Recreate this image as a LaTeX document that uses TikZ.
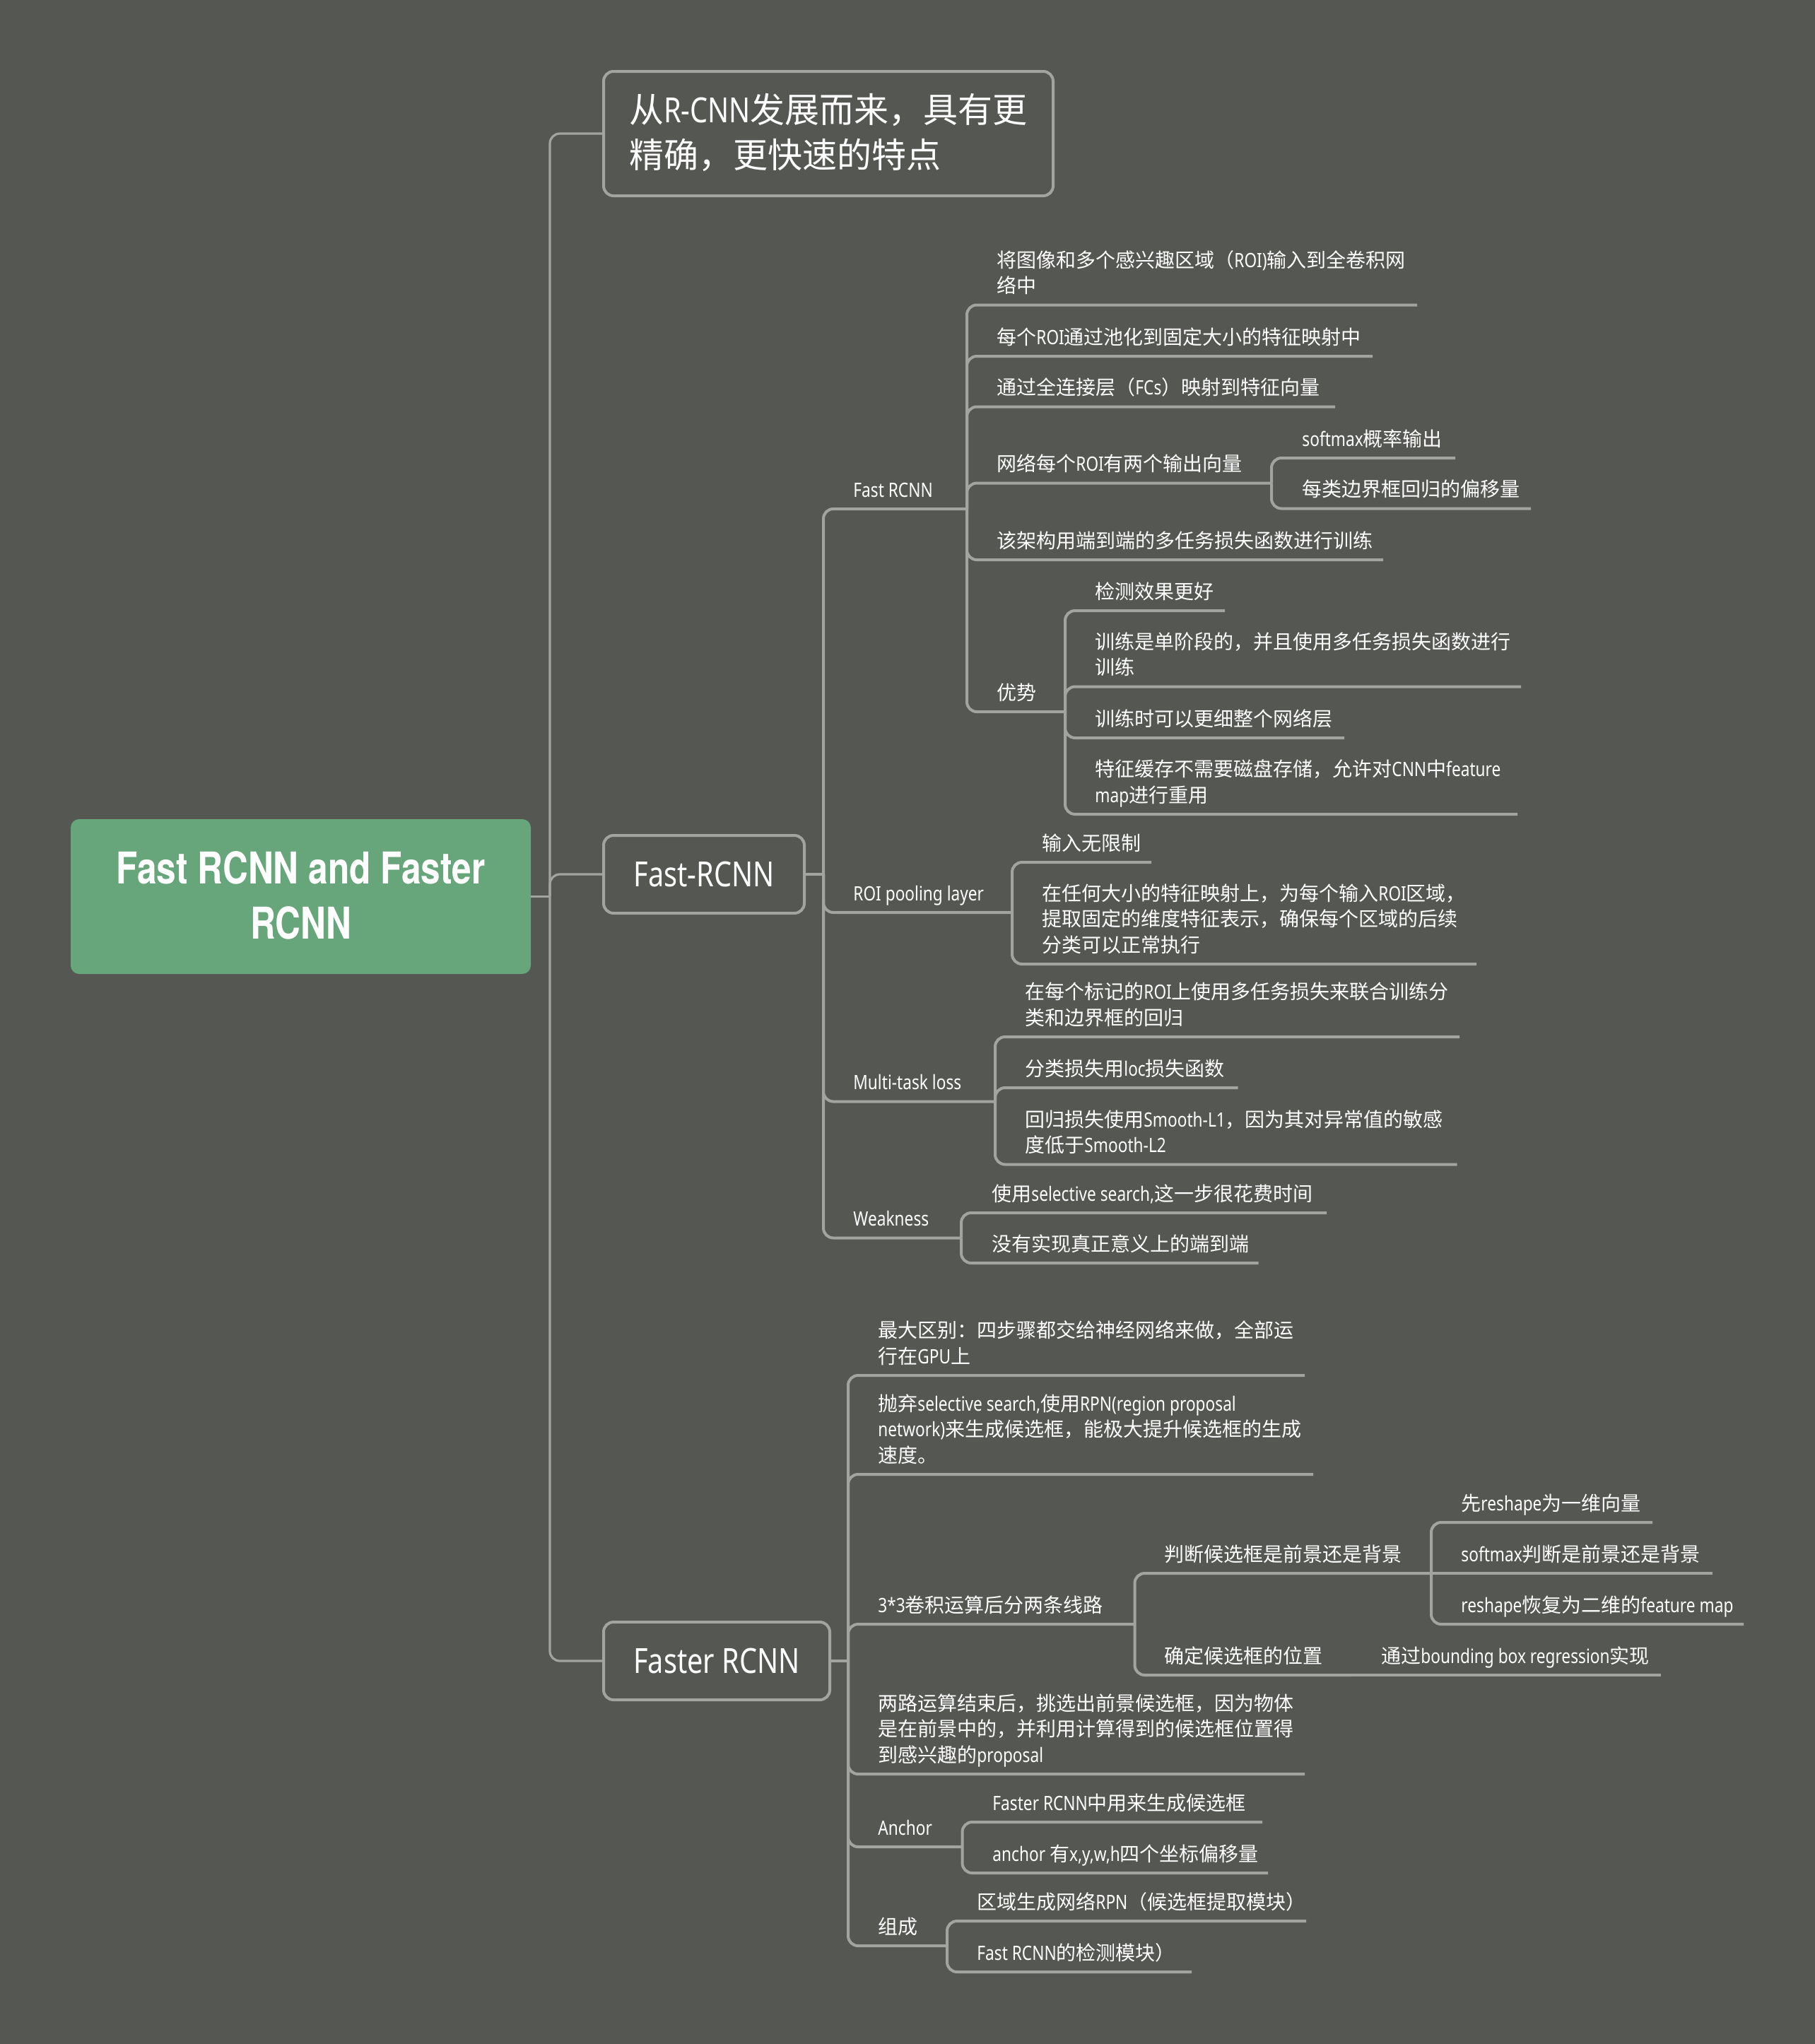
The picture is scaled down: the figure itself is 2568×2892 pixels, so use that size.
\documentclass[tikz,border=0pt]{standalone}
\usepackage{fontspec}
\setmainfont{Noto Sans}[FakeStretch=0.81]
\newfontfamily\latfont{Noto Sans}[FakeStretch=0.81]
\newfontfamily\rootfont{TeX Gyre Heros}[FakeStretch=0.80]
\newfontfamily\cjkfont{Noto Sans CJK SC}
\newcount\cjkcnt
\newXeTeXintercharclass\cjkclass
\def\setcjkrange#1#2{\cjkcnt=#1 \loop\ifnum\cjkcnt<#2 \XeTeXcharclass\cjkcnt=\cjkclass \advance\cjkcnt by 1 \repeat}
\setcjkrange{"3000}{"3040}
\setcjkrange{"4E00}{"A000}
\setcjkrange{"FF00}{"FFF0}
\XeTeXinterchartoks 0 \cjkclass = {\cjkfont}
\XeTeXinterchartoks 4095 \cjkclass = {\cjkfont}
\XeTeXinterchartoks \cjkclass 0 = {\latfont}
\XeTeXinterchartokenstate=1
\definecolor{bgc}{HTML}{555753}
\definecolor{linec}{HTML}{A1A49F}
\definecolor{rootc}{HTML}{67A57A}
\definecolor{txtc}{HTML}{FFFFFF}
\newcommand\ml[1]{\begin{tabular}[b]{@{}l@{}}#1\end{tabular}}
\tikzset{
  conn/.style={draw=linec, line width=2pt, rounded corners=7pt},
  conntrunk/.style={draw=linec, line width=1.6pt, rounded corners=7pt},
  topic/.style={text=txtc, font=\fontsize{14}{18.25}\selectfont, inner sep=0pt, anchor=base west},
  lonebox/.style={draw=linec, line width=2pt, rounded corners=7pt, fill=bgc, text=txtc,
    font=\fontsize{24.5}{32}\selectfont, inner sep=0pt},
  rootbox/.style={fill=rootc, rounded corners=6pt, text=txtc, inner sep=0pt,
    font=\rootfont\bfseries\fontsize{31}{39}\selectfont},
}
\begin{document}
\begin{tikzpicture}[x=0.5pt, y=-0.5pt]
\fill[bgc] (0,0) rectangle (2568,2892);
\useasboundingbox (0,0) rectangle (2568,2892);

% ---------- level 0 / 1 ----------
\node[rootbox, minimum width=325.5pt, minimum height=109.5pt] (root) at (425.5,1268.5)
  {\raisebox{-2.5pt}[\height][\depth]{\begin{tabular}{@{}c@{}}Fast RCNN and Faster\\RCNN\end{tabular}}};
\coordinate (J0) at (778,1268.5);
\node[lonebox, minimum width=318pt, minimum height=88pt] (top) at (1172,189)
  {\makebox[282pt][l]{\raisebox{-2pt}[\height][\depth]{\ml{从R-CNN发展而来，具有更\\精确，更快速的特点}}}};
\node[lonebox, minimum width=142pt, minimum height=55pt] (fastbox) at (996,1237) {Fast-RCNN};
\node[lonebox, minimum width=160pt, minimum height=55pt] (fasterbox) at (1014,2350) {Faster RCNN};

\draw[conntrunk] (root.east) -- (J0);
\draw[conntrunk] (J0) |- (top.west);
\draw[conntrunk] (J0) |- (fastbox.west);
\draw[conntrunk] (J0) |- (fasterbox.west);

% ---------- Fast-RCNN subtree ----------
\coordinate (fastJ) at (1165,1237);
\draw[conntrunk] (fastbox.east) -- (fastJ);

\node[topic] (frc) at (1207,703) {Fast RCNN};          \coordinate (frc-e) at (1368,720);
\node[topic] (roi) at (1207,1274) {ROI pooling layer}; \coordinate (roi-e) at (1432,1291);
\node[topic] (mtl) at (1207,1541.5) {Multi-task loss}; \coordinate (mtl-e) at (1408,1558.5);
\node[topic] (weak) at (1207,1734.5) {Weakness};       \coordinate (weak-e) at (1360,1751.5);
\foreach \c in {frc,roi,mtl,weak} \draw[conn] (fastJ) |- (\c-e);

\node[topic] (a1) at (1410,414.5) {\ml{将图像和多个感兴趣区域（ROI)输入到全卷积网\\络中}}; \coordinate (a1-e) at (2005,431.5);
\node[topic] (a2) at (1410,487) {每个ROI通过池化到固定大小的特征映射中}; \coordinate (a2-e) at (1942,504);
\node[topic] (a3) at (1410,558.5) {通过全连接层（FCs）映射到特征向量}; \coordinate (a3-e) at (1889,575.5);
\node[topic] (a4) at (1410,666.5) {网络每个ROI有两个输出向量}; \coordinate (a4-e) at (1799,683.5);
\node[topic] (a5) at (1410,775) {该架构用端到端的多任务损失函数进行训练}; \coordinate (a5-e) at (1957,792);
\node[topic] (a6) at (1410,990) {优势}; \coordinate (a6-e) at (1507,1007);
\foreach \c in {a1,a2,a3,a4,a5,a6} \draw[conn] (frc-e) |- (\c-e);

\node[topic] (a41) at (1842,631) {softmax概率输出}; \coordinate (a41-e) at (2059,648);
\node[topic] (a42) at (1842,702.5) {每类边界框回归的偏移量}; \coordinate (a42-e) at (2166,719.5);
\foreach \c in {a41,a42} \draw[conn] (a4-e) |- (\c-e);

\node[topic] (b1) at (1549,847) {检测效果更好}; \coordinate (b1-e) at (1733,864);
\node[topic] (b2) at (1549,954.5) {\ml{训练是单阶段的，并且使用多任务损失函数进行\\训练}}; \coordinate (b2-e) at (2152,971.5);
\node[topic] (b3) at (1549,1027) {训练时可以更细整个网络层}; \coordinate (b3-e) at (1902,1044);
\node[topic] (b4) at (1549,1135) {\ml{特征缓存不需要磁盘存储，允许对CNN中feature\\map进行重用}}; \coordinate (b4-e) at (2147,1152);
\foreach \c in {b1,b2,b3,b4} \draw[conn] (a6-e) |- (\c-e);

\node[topic] (c1) at (1474,1203) {输入无限制}; \coordinate (c1-e) at (1629,1220);
\node[topic] (c2) at (1474,1347) {\ml{在任何大小的特征映射上，为每个输入ROI区域，\\提取固定的维度特征表示，确保每个区域的后续\\分类可以正常执行}}; \coordinate (c2-e) at (2089,1364);
\foreach \c in {c1,c2} \draw[conn] (roi-e) |- (\c-e);

\node[topic] (d1) at (1450,1450) {\ml{在每个标记的ROI上使用多任务损失来联合训练分\\类和边界框的回归}}; \coordinate (d1-e) at (2065,1467);
\node[topic] (d2) at (1450,1522) {分类损失用loc损失函数}; \coordinate (d2-e) at (1751.5,1539);
\node[topic] (d3) at (1450,1630.5) {\ml{回归损失使用Smooth-L1，因为其对异常值的敏感\\度低于Smooth-L2}}; \coordinate (d3-e) at (2061.5,1647.5);
\foreach \c in {d1,d2,d3} \draw[conn] (mtl-e) |- (\c-e);

\node[topic] (w1) at (1403,1699) {使用selective search,这一步很花费时间}; \coordinate (w1-e) at (1877,1716);
\node[topic] (w2) at (1403,1770) {没有实现真正意义上的端到端}; \coordinate (w2-e) at (1780.5,1787);
\foreach \c in {w1,w2} \draw[conn] (weak-e) |- (\c-e);

% ---------- Faster RCNN subtree ----------
\coordinate (fasterJ) at (1200,2350);
\draw[conntrunk] (fasterbox.east) -- (fasterJ);

\node[topic] (f1) at (1242,1929) {\ml{最大区别：四步骤都交给神经网络来做，全部运\\行在GPU上}}; \coordinate (f1-e) at (1846,1946);
\node[topic] (f2) at (1242,2069) {\ml{抛弃selective search,使用RPN(region proposal\\network)来生成候选框，能极大提升候选框的生成\\速度。}}; \coordinate (f2-e) at (1858,2086);
\node[topic] (f3) at (1242,2281) {3*3卷积运算后分两条线路}; \coordinate (f3-e) at (1605.5,2298);
\node[topic] (f4) at (1242,2493) {\ml{两路运算结束后，挑选出前景候选框，因为物体\\是在前景中的，并利用计算得到的候选框位置得\\到感兴趣的proposal}}; \coordinate (f4-e) at (1846,2510);
\node[topic] (f5) at (1242,2596) {Anchor}; \coordinate (f5-e) at (1361.5,2613);
\node[topic] (f6) at (1242,2736) {组成}; \coordinate (f6-e) at (1340,2753);
\foreach \c in {f1,f2,f3,f4,f5,f6} \draw[conn] (fasterJ) |- (\c-e);

\node[topic] (g1) at (1647,2209) {判断候选框是前景还是背景}; \coordinate (g1-e) at (2025,2226);
\node[topic] (g2) at (1647,2353) {确定候选框的位置}; \coordinate (g2-e) at (1912,2370);
\foreach \c in {g1,g2} \draw[conn] (f3-e) |- (\c-e);
\node[topic] (g21) at (1954,2353) {通过bounding box regression实现}; \coordinate (g21-e) at (2350,2370);
\draw[conn] (g2-e) -- (g21-e);

\node[topic] (h1) at (2067,2137) {先reshape为一维向量}; \coordinate (h1-e) at (2338,2154);
\node[topic] (h2) at (2067,2209) {softmax判断是前景还是背景}; \coordinate (h2-e) at (2423,2226);
\node[topic] (h3) at (2067,2281) {reshape恢复为二维的feature map}; \coordinate (h3-e) at (2467,2298);
\draw[conn] (g1-e) |- (h1-e);
\draw[conn] (g1-e) -- (h2-e);
\draw[conn] (g1-e) |- (h3-e);

\node[topic] (k1) at (1404,2561) {Faster RCNN中用来生成候选框}; \coordinate (k1-e) at (1786,2578);
\node[topic] (k2) at (1404,2633) {anchor 有x,y,w,h四个坐标偏移量}; \coordinate (k2-e) at (1794,2650);
\foreach \c in {k1,k2} \draw[conn] (f5-e) |- (\c-e);

\node[topic] (m1) at (1382,2701) {区域生成网络RPN（候选框提取模块）}; \coordinate (m1-e) at (1848,2718);
\node[topic] (m2) at (1382,2773) {Fast RCNN的检测模块）}; \coordinate (m2-e) at (1686,2790);
\foreach \c in {m1,m2} \draw[conn] (f6-e) |- (\c-e);
\end{tikzpicture}
\end{document}
